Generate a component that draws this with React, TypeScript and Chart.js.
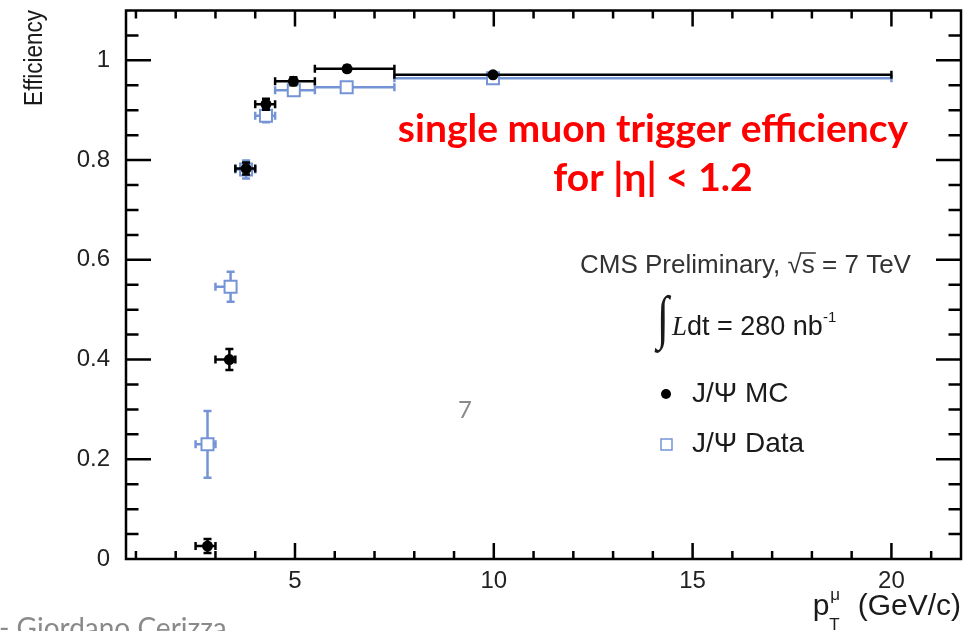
import React, { useEffect, useRef } from "react";
import { Chart, registerables } from "chart.js";

Chart.register(...registerables);

// pT bins (GeV/c) shared by both measurements
const ptBinLow = [2.5, 3.0, 3.5, 4.0, 4.5, 5.5, 7.5];
const ptBinHigh = [3.0, 3.5, 4.0, 4.5, 5.5, 7.5, 20];

// J/psi Monte Carlo efficiency
const mcPt = [2.8, 3.35, 3.77, 4.27, 4.96, 6.31, 9.98];
const mcEff = [0.026, 0.4, 0.783, 0.912, 0.958, 0.983, 0.971];
const mcErr = [0.014, 0.021, 0.012, 0.011, 0.008, 0.006, 0.004];

// J/psi data efficiency
const dataPt = [2.8, 3.38, 3.77, 4.27, 4.97, 6.3, 9.98];
const dataEff = [0.23, 0.546, 0.781, 0.889, 0.94, 0.946, 0.964];
const dataErr = [0.067, 0.03, 0.018, 0.013, 0.009, 0.007, 0.004];

const xTickValues = [5, 10, 15, 20];
const yTickValues = [0, 0.2, 0.4, 0.6, 0.8, 1];

const BLUE = "rgb(116,148,214)";
const ROOT_FONT = "Liberation Sans, Arial, sans-serif";
const SLIDE_FONT = "Lato, 'Open Sans', sans-serif";

// Error bars with end caps, drawn just before each dataset's markers
const errorBars = {
  id: "errorBars",
  beforeDatasetDraw(chart: any, args: any) {
    const ds: any = chart.data.datasets[args.index];
    const { ctx } = chart;
    const xs = chart.scales.x;
    const ys = chart.scales.y;
    const cap = 4;
    ctx.save();
    ctx.strokeStyle = ds.borderColor;
    ctx.lineWidth = 2.5;
    ctx.beginPath();
    ds.data.forEach((p: any, i: number) => {
      const px = xs.getPixelForValue(p.x);
      const py = ys.getPixelForValue(p.y);
      const xl = xs.getPixelForValue(ds.xLow[i]);
      const xh = xs.getPixelForValue(ds.xHigh[i]);
      const yt = ys.getPixelForValue(p.y + ds.yErr[i]);
      const yb = ys.getPixelForValue(p.y - ds.yErr[i]);
      ctx.moveTo(xl, py);
      ctx.lineTo(xh, py);
      ctx.moveTo(xl, py - cap);
      ctx.lineTo(xl, py + cap);
      ctx.moveTo(xh, py - cap);
      ctx.lineTo(xh, py + cap);
      ctx.moveTo(px, yt);
      ctx.lineTo(px, yb);
      ctx.moveTo(px - cap, yt);
      ctx.lineTo(px + cap, yt);
      ctx.moveTo(px - cap, yb);
      ctx.lineTo(px + cap, yb);
    });
    ctx.stroke();
    ctx.restore();
  },
};

// Frame with inward ticks on all four sides
const frameAndTicks = {
  id: "frameAndTicks",
  afterDraw(chart: any) {
    const { ctx, chartArea: a } = chart;
    const xs = chart.scales.x;
    const ys = chart.scales.y;
    ctx.save();
    ctx.strokeStyle = "#000";
    ctx.lineWidth = 2.5;
    ctx.beginPath();
    for (let v = 1; v <= 21; v++) {
      const px = xs.getPixelForValue(v);
      const len = v % 5 === 0 ? 16 : 8;
      ctx.moveTo(px, a.bottom);
      ctx.lineTo(px, a.bottom - len);
      ctx.moveTo(px, a.top);
      ctx.lineTo(px, a.top + len);
    }
    for (let k = 1; k <= 21; k++) {
      const py = ys.getPixelForValue(k * 0.05);
      const len = k % 4 === 0 ? 25 : 12.5;
      ctx.moveTo(a.left, py);
      ctx.lineTo(a.left + len, py);
      ctx.moveTo(a.right, py);
      ctx.lineTo(a.right - len, py);
    }
    ctx.stroke();
    ctx.strokeRect(a.left, a.top, a.right - a.left, a.bottom - a.top);
    ctx.restore();
  },
};

type Run = { t: string; f: string; dy?: number };

function drawRuns(ctx: CanvasRenderingContext2D, x: number, y: number, runs: Run[]) {
  let cx = x;
  runs.forEach((r) => {
    ctx.font = r.f;
    ctx.fillText(r.t, cx, y + (r.dy || 0));
    cx += ctx.measureText(r.t).width;
  });
  return cx;
}

// Axis titles, CMS labels, legend and slide annotations
const annotations = {
  id: "annotations",
  afterDraw(chart: any) {
    const { ctx } = chart;
    ctx.save();
    ctx.fillStyle = "#1a1a1a";
    ctx.textBaseline = "alphabetic";

    // y title, rotated and aligned to the top of the axis
    ctx.save();
    ctx.translate(42, 10);
    ctx.rotate(-Math.PI / 2);
    ctx.scale(0.9, 1);
    ctx.textAlign = "right";
    ctx.font = `25px ${ROOT_FONT}`;
    ctx.fillText("Efficiency", 0, 0);
    ctx.restore();

    // x title: p_T^mu (GeV/c), right aligned at the frame edge
    ctx.textAlign = "left";
    const tf = `30px ${ROOT_FONT}`;
    const sf = `17px ${ROOT_FONT}`;
    ctx.font = tf;
    const rest = " (GeV/c)";
    const restW = ctx.measureText(rest).width;
    const restX = 961 - restW;
    ctx.fillText(rest, restX, 615);
    ctx.font = tf;
    const pW = ctx.measureText("p").width;
    const pX = restX - pW - 20;
    ctx.fillText("p", pX, 615);
    ctx.font = sf;
    ctx.fillText("\u03bc", pX + pW + 1, 600);
    ctx.fillText("T", pX + pW, 630);

    // CMS Preliminary, sqrt(s) = 7 TeV
    const cf = `26px ${ROOT_FONT}`;
    const lf = `27px ${ROOT_FONT}`;
    ctx.fillStyle = "#333";
    let cx = drawRuns(ctx, 580, 273, [{ t: "CMS Preliminary, ", f: cf }]);
    ctx.font = cf;
    ctx.fillText("\u221a", cx, 273);
    cx += ctx.measureText("\u221a").width;
    const sW = ctx.measureText("s").width;
    ctx.fillText("s", cx, 273);
    ctx.beginPath();
    ctx.lineWidth = 1.5;
    ctx.strokeStyle = "#333";
    ctx.moveTo(cx - 2, 253);
    ctx.lineTo(cx + sW + 1, 253);
    ctx.stroke();
    cx += sW;
    drawRuns(ctx, cx, 273, [{ t: " = 7 TeV", f: cf }]);

    // integrated luminosity
    ctx.fillStyle = "#1a1a1a";
    ctx.save();
    ctx.translate(657, 337);
    ctx.scale(1, 1.35);
    ctx.font = `44px Liberation Serif, serif`;
    ctx.fillText("\u222b", 0, 0);
    ctx.restore();
    cx = drawRuns(ctx, 672, 335, [
      { t: "L", f: `italic 27px Liberation Serif, serif` },
      { t: "dt = 280 nb", f: lf },
    ]);
    drawRuns(ctx, cx, 322, [{ t: "-1", f: `15px ${ROOT_FONT}` }]);

    // legend
    ctx.fillStyle = "#000";
    ctx.beginPath();
    ctx.arc(666, 394, 5, 0, Math.PI * 2);
    ctx.fill();
    ctx.strokeStyle = BLUE;
    ctx.lineWidth = 1.5;
    ctx.strokeRect(661, 439, 11, 11);
    ctx.fillStyle = "#1a1a1a";
    ctx.textBaseline = "middle";
    ctx.font = `28px ${ROOT_FONT}`;
    ctx.fillText("J/\u03a8 MC", 692, 394);
    ctx.fillText("J/\u03a8 Data", 692, 444);

    // red slide annotation
    ctx.fillStyle = "#ff0000";
    ctx.textAlign = "center";
    ctx.textBaseline = "alphabetic";
    ctx.font = `bold 39px ${SLIDE_FONT}`;
    ctx.fillText("single muon trigger efficiency", 653, 142);
    ctx.fillText("for |\u03b7| < 1.2", 653, 191);

    // slide page number and author
    ctx.fillStyle = "#8a8a8a";
    ctx.textBaseline = "middle";
    ctx.font = `24px ${SLIDE_FONT}`;
    ctx.fillText("7", 465, 410);
    ctx.textAlign = "left";
    ctx.textBaseline = "alphabetic";
    ctx.font = `28px ${SLIDE_FONT}`;
    ctx.fillText("- Giordano Cerizza", -1, 638);
    ctx.restore();
  },
};

export default function App() {
  const canvasRef = useRef<HTMLCanvasElement | null>(null);

  useEffect(() => {
    if (!canvasRef.current) return;
    const fixPadding = (s: any) => {
      s.paddingTop = 0;
      s.paddingBottom = 0;
      s.paddingLeft = 0;
      s.paddingRight = 0;
    };
    const chart = new Chart(canvasRef.current, {
      type: "scatter",
      data: {
        datasets: [
          {
            label: "J/\u03a8 MC",
            data: mcPt.map((x, i) => ({ x, y: mcEff[i] })),
            xLow: ptBinLow,
            xHigh: ptBinHigh,
            yErr: mcErr,
            pointStyle: "circle",
            pointRadius: 5.5,
            backgroundColor: "#000",
            borderColor: "#000",
            borderWidth: 0,
          } as any,
          {
            label: "J/\u03a8 Data",
            data: dataPt.map((x, i) => ({ x, y: dataEff[i] })),
            xLow: ptBinLow,
            xHigh: ptBinHigh,
            yErr: dataErr,
            pointStyle: "rect",
            pointRadius: 8.5,
            backgroundColor: "#fff",
            borderColor: BLUE,
            borderWidth: 2,
          } as any,
        ],
      },
      options: {
        animation: false,
        responsive: false,
        events: [],
        layout: { padding: { left: 0, top: 10.5, right: 11, bottom: 0 } },
        plugins: { legend: { display: false }, tooltip: { enabled: false } },
        scales: {
          x: {
            type: "linear",
            min: 0.75,
            max: 21.75,
            grid: { display: false, drawTicks: false },
            border: { display: false },
            afterBuildTicks: (s: any) => {
              s.ticks = xTickValues.map((value) => ({ value }));
            },
            afterFit: (s: any) => {
              s.height = 72;
              fixPadding(s);
            },
            ticks: {
              padding: 10,
              color: "#222",
              maxRotation: 0,
              callback: (v: any) => `${v}`,
              font: { family: ROOT_FONT, size: 24, lineHeight: 1 },
            },
          },
          y: {
            type: "linear",
            min: 0,
            max: 1.1,
            grid: { display: false, drawTicks: false },
            border: { display: false },
            afterBuildTicks: (s: any) => {
              s.ticks = yTickValues.map((value) => ({ value }));
            },
            afterFit: (s: any) => {
              s.width = 126;
              fixPadding(s);
            },
            ticks: {
              padding: 16,
              color: "#222",
              callback: (v: any) => `${v}`,
              font: { family: ROOT_FONT, size: 24, lineHeight: 1 },
            },
          },
        },
      },
      plugins: [errorBars, frameAndTicks, annotations],
    });
    return () => chart.destroy();
  }, []);

  return (
    <div style={{ position: "fixed", left: 0, top: 0, width: 972, height: 631, background: "#fff" }}>
      <canvas ref={canvasRef} width={972} height={631} style={{ display: "block" }} />
    </div>
  );
}
